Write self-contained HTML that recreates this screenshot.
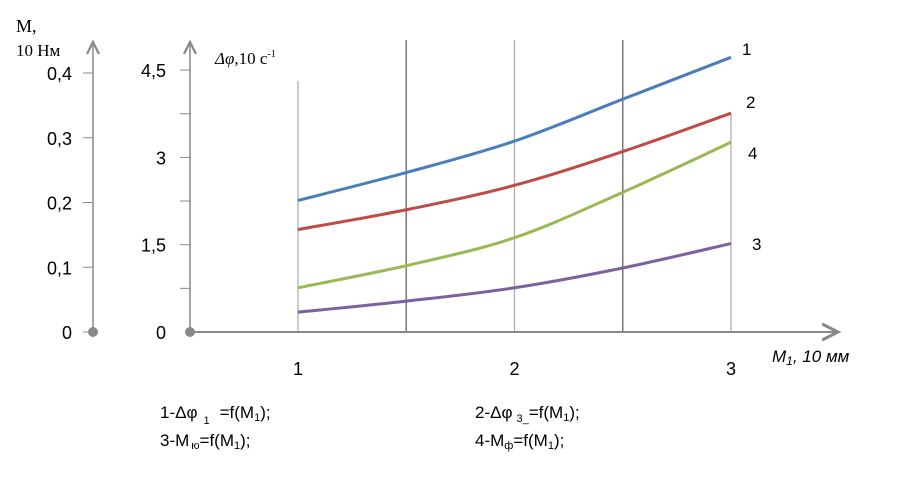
<!DOCTYPE html>
<html><head><meta charset="utf-8"><style>
body{margin:0;background:#fff;}
svg{display:block;font-family:"Liberation Sans",sans-serif;}
</style></head><body>
<svg id="chart" width="910" height="489" viewBox="0 0 910 489" xmlns="http://www.w3.org/2000/svg">
<defs><marker id="arr" markerWidth="10" markerHeight="10" refX="8" refY="5" orient="auto"><path d="M0,1 L8,5 L0,9" fill="none" stroke="#888" stroke-width="1.5"/></marker></defs>
<g id="grid"></g>
<line x1="93" y1="332" x2="93" y2="42" stroke="#888" stroke-width="1.5" marker-end="url(#arr)"/>
<circle cx="93" cy="332" r="5" fill="#888"/>
<line x1="190" y1="332" x2="190" y2="42" stroke="#888" stroke-width="1.5" marker-end="url(#arr)"/>
<circle cx="190" cy="332" r="5" fill="#888"/>
<line x1="190" y1="332" x2="838" y2="332" stroke="#888" stroke-width="2" marker-end="url(#arr)"/>
<g id="ticks"></g>
<g id="series"></g>
<text x="16" y="32" font-family="Liberation Serif" font-size="18">M,</text>
<text x="16" y="56" font-family="Liberation Serif" font-size="17">10 Нм</text>
<text x="215" y="64" font-family="Liberation Serif" font-size="17"><tspan font-style="italic">Δφ</tspan>,10 с<tspan dy="-7" font-size="10">-1</tspan></text>
<text x="772" y="362" font-size="17" font-style="italic">M<tspan font-size="12" dy="3">1</tspan><tspan dy="-3">, 10 мм</tspan></text>
<g font-size="17">
<text x="160" y="418">1-Δφ<tspan dx="6" dy="6" font-size="11">1</tspan><tspan dx="10" dy="-6">=f(M</tspan><tspan font-size="11" dy="3">1</tspan><tspan dy="-3">);</tspan></text>
<text x="475" y="418">2-Δφ<tspan dx="4" dy="4" font-size="11">3_</tspan><tspan dy="-4">=f(M</tspan><tspan font-size="11" dy="3">1</tspan><tspan dy="-3">);</tspan></text>
<text x="160" y="446">3-M<tspan dx="2" dy="3" font-size="11">ю</tspan><tspan dy="-3">=f(M</tspan><tspan font-size="11" dy="3">1</tspan><tspan dy="-3">);</tspan></text>
<text x="475" y="446">4-M<tspan dy="3" font-size="11">ф</tspan><tspan dy="-3">=f(M</tspan><tspan font-size="11" dy="3">1</tspan><tspan dy="-3">);</tspan></text>
</g>
</svg>
<script>
const xValues=[1,1.5,2,2.5,3];
const seriesNames=['1','2','4','3'];
const series1=[2.26,2.74,3.28,4.0,4.72];
const series2=[1.76,2.1,2.52,3.1,3.76];
const series4=[0.76,1.14,1.62,2.4,3.26];
const series3=[0.34,0.53,0.76,1.1,1.52];
const rightTicks=['0','1,5','3','4,5'];
const rightTickVals=[0,1.5,3,4.5];
const leftTicks=['0','0,1','0,2','0,3','0,4'];
const leftTickVals=[0,0.1,0.2,0.3,0.4];
const xTicks=[1,2,3];
const gridX=[1,1.5,2,2.5,3];

const NS='http://www.w3.org/2000/svg';
const X=v=>298+(v-1)*216.5;
const Y=v=>332-v*58.2;
const YL=v=>332-v*647.5;
function mk(t,a,p){const e=document.createElementNS(NS,t);for(const k in a)e.setAttribute(k,a[k]);p.appendChild(e);return e;}
const grid=document.getElementById('grid'),ticks=document.getElementById('ticks'),ser=document.getElementById('series');
gridX.forEach((g,i)=>{const top=(i==0)?81:(i==4?114:40);
 const l=mk('line',{x1:X(g),x2:X(g),y1:top,y2:332,stroke:i%2?'#777':'#aaa','stroke-width':i%2?1.5:1.2},grid);
 
 });
rightTickVals.forEach((v,i)=>{const t=mk('text',{x:166,y:Y(v)+7,'text-anchor':'end','font-size':18},ticks);t.textContent=rightTicks[i];
 
 });
for(let v=0.75;v<=4.5;v+=0.75){const l=mk('line',{x1:180,x2:190,y1:Y(v),y2:Y(v),stroke:'#888'},ticks);
 
 }
leftTickVals.forEach((v,i)=>{const t=mk('text',{x:72,y:YL(v)+7,'text-anchor':'end','font-size':18},ticks);t.textContent=leftTicks[i];
 
 
 const l=mk('line',{x1:83,x2:93,y1:YL(v),y2:YL(v),stroke:'#888'},ticks);
 
 });
xTicks.forEach(v=>{const t=mk('text',{x:X(v),y:375,'text-anchor':'middle','font-size':18},ticks);t.textContent=v;
 
 });
function path(vals){const p=xValues.map((x,i)=>[X(x),Y(vals[i])]);let d='M'+p[0][0]+','+p[0][1];
 for(let i=0;i<p.length-1;i++){const p0=p[Math.max(0,i-1)],p1=p[i],p2=p[i+1],p3=p[Math.min(p.length-1,i+2)];
 d+=' C'+(p1[0]+(p2[0]-p0[0])/6)+','+(p1[1]+(p2[1]-p0[1])/6)+' '+(p2[0]-(p3[0]-p1[0])/6)+','+(p2[1]-(p3[1]-p1[1])/6)+' '+p2[0]+','+p2[1];}return d;}
const all=[[series1,'#4a7ebb',[742,55]],[series2,'#be4b48',[746,108]],[series4,'#98b954',[748,159]],[series3,'#7d60a0',[752,250]]];
all.forEach((s,i)=>{const e=mk('path',{d:path(s[0]),fill:'none',stroke:s[1],'stroke-width':3},ser);
 
 
 const t=mk('text',{x:s[2][0],y:s[2][1],'font-size':17},ser);t.textContent=seriesNames[i];
 
 });
</script>
</body></html>
